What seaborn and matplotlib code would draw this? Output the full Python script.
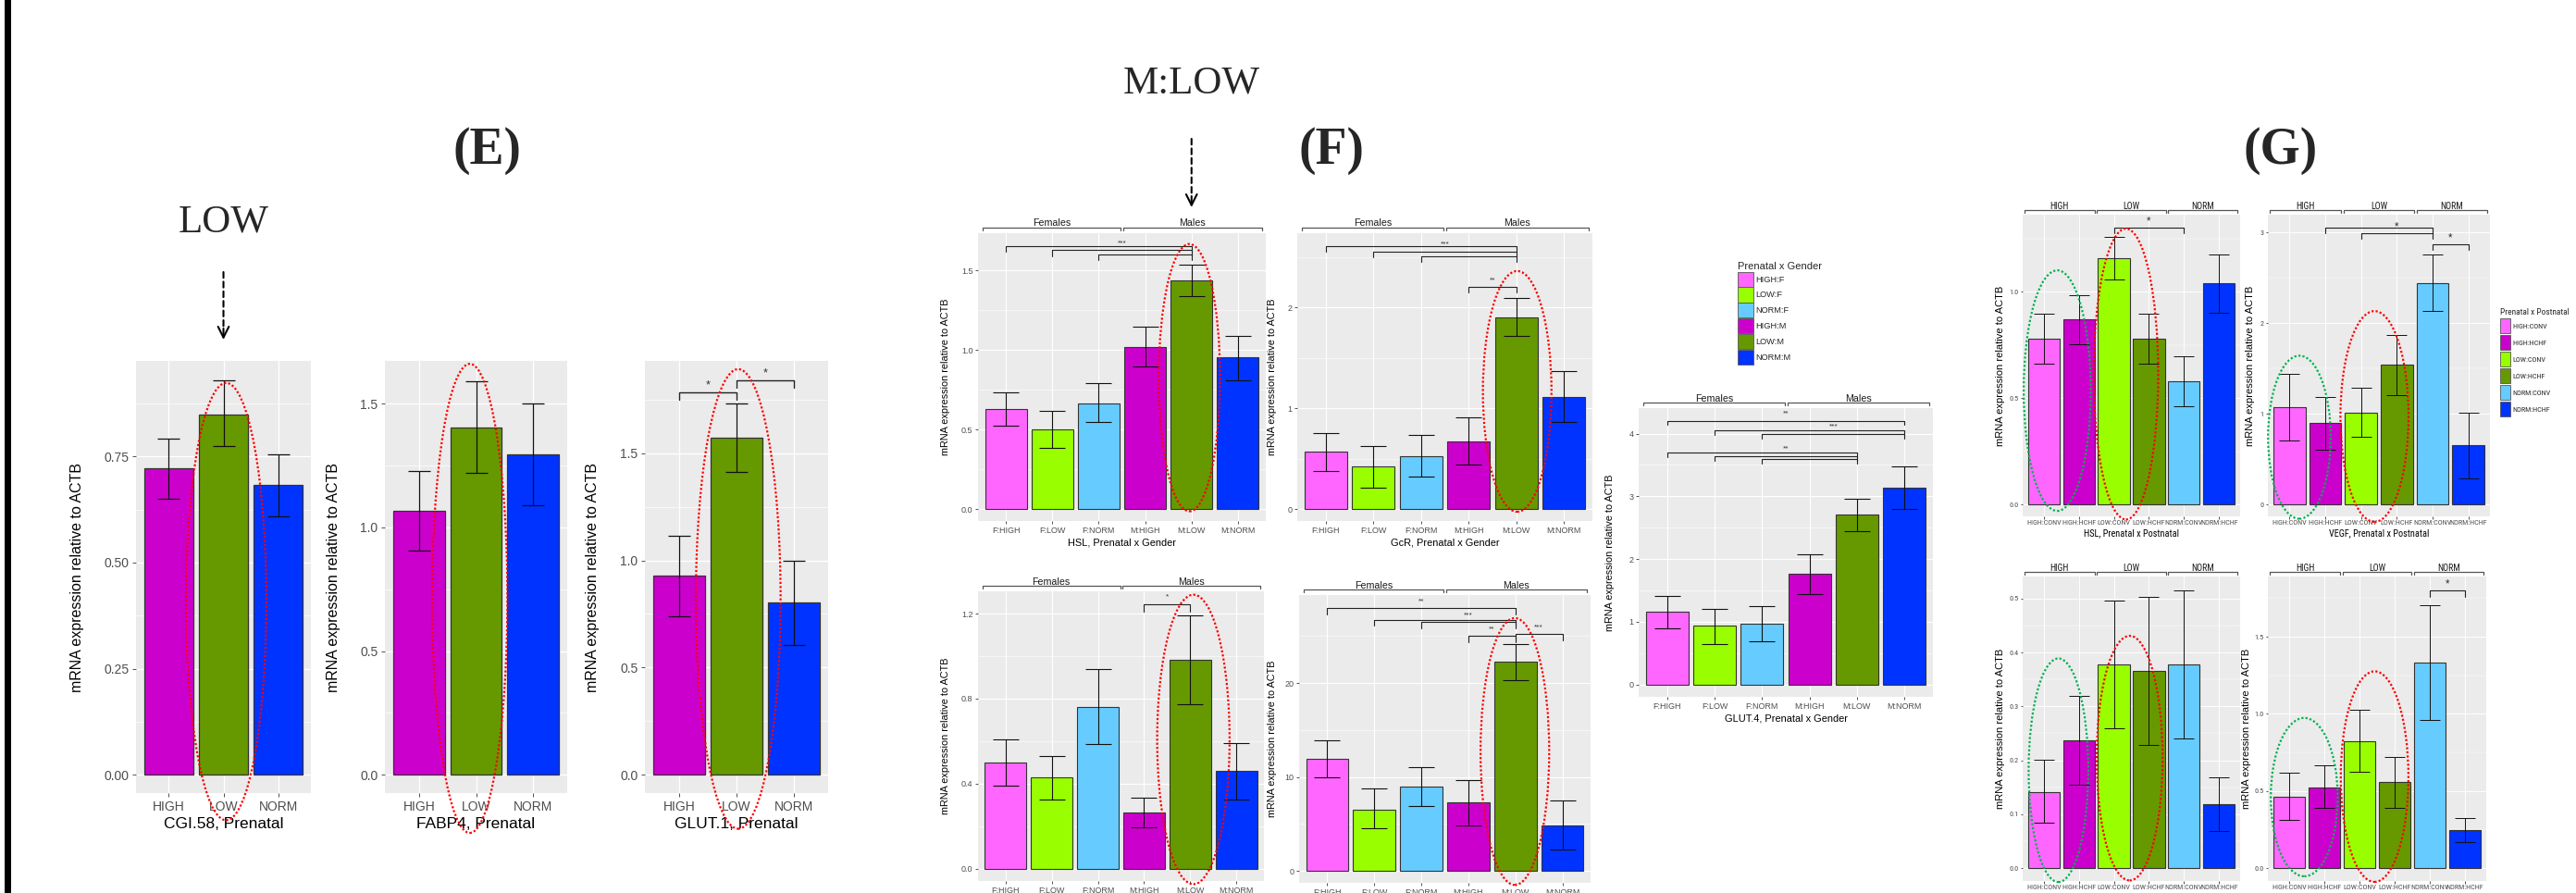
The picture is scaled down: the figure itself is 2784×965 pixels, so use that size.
import os
import numpy as np
import matplotlib
matplotlib.use("Agg")
import matplotlib.pyplot as plt
import seaborn as sns
from matplotlib.patches import Ellipse, Patch, Rectangle
from matplotlib.ticker import MultipleLocator
from matplotlib import font_manager as fm

W, H = 2784, 965

# ---------------- data ----------------
prenatal = ["HIGH", "LOW", "NORM"]
prenatal_colors = ["#CC00CC", "#669900", "#0033FF"]

cgi58_mean = [0.722, 0.849, 0.682]
cgi58_lo = [0.651, 0.774, 0.608]
cgi58_hi = [0.792, 0.929, 0.755]

fabp4_mean = [1.067, 1.403, 1.295]
fabp4_lo = [0.907, 1.219, 1.088]
fabp4_hi = [1.229, 1.592, 1.500]

glut1_mean = [0.927, 1.572, 0.802]
glut1_lo = [0.741, 1.413, 0.605]
glut1_hi = [1.115, 1.731, 0.998]

gender = ["F:HIGH", "F:LOW", "F:NORM", "M:HIGH", "M:LOW", "M:NORM"]
gender_colors = ["#FF66FF", "#99FF00", "#66CCFF", "#CC00CC", "#669900", "#0033FF"]
gender_legend = ["HIGH:F", "LOW:F", "NORM:F", "HIGH:M", "LOW:M", "NORM:M"]
gender_groups = ["Females", "Males"]

hsl_g_mean = [0.628, 0.501, 0.667, 1.021, 1.438, 0.953]
hsl_g_lo = [0.524, 0.385, 0.549, 0.895, 1.336, 0.810]
hsl_g_hi = [0.734, 0.620, 0.790, 1.146, 1.539, 1.090]

gcr_g_mean = [0.567, 0.421, 0.524, 0.671, 1.905, 1.116]
gcr_g_lo = [0.375, 0.213, 0.323, 0.439, 1.720, 0.869]
gcr_g_hi = [0.753, 0.625, 0.735, 0.909, 2.095, 1.372]

fb1_mean = [0.499, 0.428, 0.761, 0.263, 0.983, 0.460]
fb1_lo = [0.390, 0.327, 0.585, 0.193, 0.774, 0.327]
fb1_hi = [0.607, 0.529, 0.938, 0.333, 1.191, 0.593]

fb2_mean = [11.9, 6.52, 8.98, 7.25, 22.3, 4.82]
fb2_lo = [10.0, 4.49, 6.92, 4.85, 20.33, 2.26]
fb2_hi = [13.9, 8.72, 11.05, 9.67, 24.16, 7.48]

glut4_mean = [1.161, 0.935, 0.974, 1.761, 2.705, 3.143]
glut4_lo = [0.900, 0.644, 0.694, 1.436, 2.450, 2.799]
glut4_hi = [1.412, 1.210, 1.254, 2.081, 2.961, 3.478]

postnatal = ["HIGH:CONV", "HIGH:HCHF", "LOW:CONV", "LOW:HCHF", "NORM:CONV", "NORM:HCHF"]
post_colors = ["#FF66FF", "#CC00CC", "#99FF00", "#669900", "#66CCFF", "#0033FF"]
post_groups = ["HIGH", "LOW", "NORM"]

hsl_p_mean = [0.781, 0.870, 1.158, 0.779, 0.579, 1.039]
hsl_p_lo = [0.661, 0.754, 1.059, 0.661, 0.462, 0.900]
hsl_p_hi = [0.896, 0.984, 1.258, 0.896, 0.699, 1.177]

vegf_p_mean = [1.072, 0.899, 1.015, 1.544, 2.443, 0.652]
vegf_p_lo = [0.706, 0.604, 0.743, 1.208, 2.131, 0.285]
vegf_p_hi = [1.442, 1.191, 1.286, 1.873, 2.762, 1.015]

gb1_mean = [0.1416, 0.237, 0.377, 0.365, 0.377, 0.119]
gb1_lo = [0.0843, 0.155, 0.259, 0.228, 0.241, 0.068]
gb1_hi = [0.201, 0.319, 0.496, 0.503, 0.515, 0.169]

gb2_mean = [0.465, 0.525, 0.824, 0.556, 1.334, 0.247]
gb2_lo = [0.315, 0.393, 0.622, 0.393, 0.961, 0.168]
gb2_hi = [0.616, 0.664, 1.025, 0.718, 1.705, 0.323]

# tick values and labels
e1_ticks, e1_labels = [0, 0.25, 0.5, 0.75], ["0.00", "0.25", "0.50", "0.75"]
e2_ticks, e2_labels = [0, 0.5, 1.0, 1.5], ["0.0", "0.5", "1.0", "1.5"]
hsl_ticks, hsl_labels = [0, 0.5, 1.0, 1.5], ["0.0", "0.5", "1.0", "1.5"]
gcr_ticks, gcr_labels = [0, 1, 2], ["0", "1", "2"]
fb1_ticks, fb1_labels = [0, 0.4, 0.8, 1.2], ["0.0", "0.4", "0.8", "1.2"]
fb2_ticks, fb2_labels = [0, 10, 20], ["0", "10", "20"]
glut4_ticks, glut4_labels = [0, 1, 2, 3, 4], ["0", "1", "2", "3", "4"]
hslp_ticks, hslp_labels = [0, 0.5, 1.0], ["0.0", "0.5", "1.0"]
vegf_ticks, vegf_labels = [0, 1, 2, 3], ["0", "1", "2", "3"]
gb1_ticks, gb1_labels = [0, 0.1, 0.2, 0.3, 0.4, 0.5], ["0.0", "0.1", "0.2", "0.3", "0.4", "0.5"]
gb2_ticks, gb2_labels = [0, 0.5, 1.0, 1.5], ["0.0", "0.5", "1.0", "1.5"]

YLAB = "mRNA expression relative to ACTB"

# ---------------- style ----------------
sns.set_theme(style="darkgrid", rc={"axes.facecolor": "#EBEBEB", "grid.color": "white"})
plt.rcParams["font.family"] = ["Liberation Sans", "DejaVu Sans"]

files = {os.path.basename(f.fname): f.fname for f in fm.fontManager.ttflist}
NARROW, NARROW_K = None, 0.83
for name, k in [("LiberationSansNarrow-Regular.ttf", 1.0), ("RobotoCondensed-Regular.ttf", 0.97)]:
    if name in files:
        NARROW, NARROW_K = files[name], k
        break


def sans(size):
    return fm.FontProperties(family=["Liberation Sans", "DejaVu Sans"], size=size)


def narrow(size):
    if NARROW:
        return fm.FontProperties(fname=NARROW, size=size * NARROW_K)
    return sans(size * NARROW_K)


def serif(size, bold=False):
    return fm.FontProperties(family=["Liberation Serif", "DejaVu Serif"], size=size,
                             weight="bold" if bold else "normal")


E_STYLE = dict(tick=sans(10), title=sans(12.5), ylab=sans(11.5), star=sans(9),
               edge=0.9, elw=0.9, cap=8.7, grid=1.0, ticklen=3, pad=2.5, labelpad=3)
F_STYLE = dict(tick=sans(6.5), title=sans(7.9), ylab=sans(7.8), star=sans(6), strip=sans(7.7),
               edge=0.8, elw=0.8, cap=10, grid=0.8, ticklen=2.5, pad=1.5, labelpad=2.5)
G_STYLE = dict(tick=narrow(6.0), title=narrow(7.6), ylab=sans(8), star=narrow(7.5), strip=narrow(7.3),
               edge=0.8, elw=0.7, cap=8, grid=0.7, ticklen=1.8, pad=1.2, labelpad=2)

fig = plt.figure(figsize=(W / 100, H / 100), dpi=100)


def panel(rect, cats, mean, lo, hi, colors, ylim, ticks, ticklabels, xlabel, ylab_x, st):
    x0, y0, x1, y1 = rect
    ax = fig.add_axes([x0 / W, 1 - y1 / H, (x1 - x0) / W, (y1 - y0) / H])
    sns.barplot(x=cats, y=mean, hue=cats, palette=colors, order=cats, hue_order=cats,
                legend=False, width=0.9, saturation=1, edgecolor="#333333",
                linewidth=st["edge"], ax=ax)
    pos = np.arange(len(cats))
    mean, lo, hi = np.asarray(mean), np.asarray(lo), np.asarray(hi)
    ax.errorbar(pos, mean, yerr=[mean - lo, hi - mean], fmt="none", ecolor="#111111",
                elinewidth=st["elw"], capsize=st["cap"], capthick=st["elw"], zorder=4)
    ax.set_xlim(-0.6, len(cats) - 0.4)
    ax.set_ylim(*ylim)
    ax.set_yticks(ticks)
    ax.set_yticklabels(ticklabels, fontproperties=st["tick"], color="#4D4D4D")
    ax.set_xticks(pos)
    ax.set_xticklabels(cats, fontproperties=st["tick"], color="#4D4D4D")
    ax.yaxis.set_minor_locator(MultipleLocator((ticks[1] - ticks[0]) / 2))
    ax.grid(which="major", color="white", lw=st["grid"])
    ax.grid(which="minor", axis="y", color="white", lw=st["grid"] * 0.5)
    ax.tick_params(which="minor", length=0)
    ax.tick_params(which="major", length=st["ticklen"], width=0.6, color="#333333",
                   pad=st["pad"], bottom=True, left=True)
    ax.set_axisbelow(True)
    for s in ax.spines.values():
        s.set_visible(False)
    ax.set_xlabel(xlabel, fontproperties=st["title"], labelpad=st["labelpad"], color="black")
    ax.set_ylabel(YLAB, fontproperties=st["ylab"], color="black")
    ax.yaxis.set_label_coords((ylab_x - x0) / (x1 - x0), 0.5)
    ax.rect_px = rect
    return ax


def brackets(ax, items, drop, st, lw=0.8):
    for i, j, y, lab in items:
        ax.plot([i, i, j, j], [y - drop, y, y, y - drop], color="#222222", lw=lw, zorder=5)
        if lab:
            ax.annotate(lab, xy=((i + j) / 2, y), xytext=(0, 5.5), textcoords="offset points",
                        ha="center", va="center", fontproperties=st["star"], color="#333333")


def strips(ax, spans, labels, st, gap=6, drop=3):
    h = ax.rect_px[3] - ax.rect_px[1]
    yl, yd = 1 + gap / h, 1 + (gap - drop) / h
    tr = ax.get_xaxis_transform()
    for (a, b), lab in zip(spans, labels):
        ax.plot([a, a, b, b], [yd, yl, yl, yd], transform=tr, color="#555555", lw=0.9, clip_on=False)
        ax.text((a + b) / 2, yl + 1.5 / h, lab, transform=tr, ha="center", va="baseline",
                fontproperties=st["strip"], color="#1A1A1A")


def ovals(ax, items, color):
    for cx, cy, w, h in items:
        ax.add_patch(Ellipse((cx, cy), w, h, fill=False, edgecolor=color, lw=1.6,
                             ls=(0, (1, 1)), clip_on=False, zorder=6))


def key_legend(colors, labels, title, x, y, prop, tprop, key_w, key_h, pitch):
    fs = prop.get_size_in_points() * 100 / 72
    hh = (key_h / fs - 0.245) / 0.65
    handles = [Patch(facecolor=c, edgecolor="#555555", lw=0.6, label=l)
               for c, l in zip(colors, labels)]
    fig.legend(handles=handles, title=title, loc="upper left",
               bbox_to_anchor=(x / W, 1 - y / H), frameon=False, prop=prop,
               title_fontproperties=tprop, handlelength=key_w / fs, handleheight=hh,
               labelspacing=max(pitch - key_h, 0) / fs, handletextpad=0.25, borderpad=0,
               borderaxespad=0, alignment="left")


RED, GREEN = "#FF0000", "#00B050"

# ---------------- panel E ----------------
ax_e1 = panel((147, 390, 336, 857), prenatal, cgi58_mean, cgi58_lo, cgi58_hi, prenatal_colors,
              (-0.043, 0.975), e1_ticks, e1_labels, "CGI.58, Prenatal", 91, E_STYLE)
ax_e2 = panel((416, 390, 613, 857), prenatal, fabp4_mean, fabp4_lo, fabp4_hi, prenatal_colors,
              (-0.074, 1.673), e2_ticks, e2_labels, "FABP4, Prenatal", 368, E_STYLE)
ax_e3 = panel((697, 390, 895, 857), prenatal, glut1_mean, glut1_lo, glut1_hi, prenatal_colors,
              (-0.085, 1.93), e2_ticks, e2_labels, "GLUT.1, Prenatal", 648, E_STYLE)
brackets(ax_e3, [(0, 1, 1.784, "*"), (1, 2, 1.838, "*")], 0.035, E_STYLE, lw=1.0)
ovals(ax_e1, [(1.05, 0.408, 1.47, 1.03)], RED)
ovals(ax_e2, [(0.89, 0.713, 1.32, 1.896)], RED)
ovals(ax_e3, [(1.03, 0.82, 1.48, 2.143)], RED)

# ---------------- panel F ----------------
g_spans = [(-0.5, 2.48), (2.53, 5.52)]
ax_f1 = panel((1057, 252, 1368, 563), gender, hsl_g_mean, hsl_g_lo, hsl_g_hi, gender_colors,
              (-0.073, 1.734), hsl_ticks, hsl_labels, "HSL, Prenatal x Gender", 1027, F_STYLE)
brackets(ax_f1, [(0, 4, 1.655, ""), (1, 4, 1.628, "***"), (2, 4, 1.603, "")], 0.04, F_STYLE)
ax_f2 = panel((1402, 252, 1721, 563), gender, gcr_g_mean, gcr_g_lo, gcr_g_hi, gender_colors,
              (-0.116, 2.735), gcr_ticks, gcr_labels, "GcR, Prenatal x Gender", 1380, F_STYLE)
brackets(ax_f2, [(0, 4, 2.607, ""), (1, 4, 2.555, "***"), (2, 4, 2.506, ""),
                 (3, 4, 2.201, "**")], 0.055, F_STYLE)
ax_f3 = panel((1057, 639, 1366, 952), gender, fb1_mean, fb1_lo, fb1_hi, gender_colors,
              (-0.058, 1.305), fb1_ticks, fb1_labels, "", 1027, F_STYLE)
brackets(ax_f3, [(3, 4, 1.244, "*")], 0.033, F_STYLE)
ax_f4 = panel((1404, 643, 1719, 954), gender, fb2_mean, fb2_lo, fb2_hi, gender_colors,
              (-1.28, 29.36), fb2_ticks, fb2_labels, "", 1380, F_STYLE)
brackets(ax_f4, [(0, 4, 27.97, "**"), (1, 4, 26.72, ""), (2, 4, 26.46, "***"),
                 (3, 4, 25.02, "**"), (4, 5, 25.18, "***")], 0.65, F_STYLE)
ax_f5 = panel((1771, 441, 2089, 753), gender, glut4_mean, glut4_lo, glut4_hi, gender_colors,
              (-0.197, 4.407), glut4_ticks, glut4_labels, "GLUT.4, Prenatal x Gender", 1745, F_STYLE)
brackets(ax_f5, [(0, 5, 4.206, "**"), (1, 5, 4.054, ""), (2, 5, 3.994, "***"),
                 (0, 4, 3.699, ""), (1, 4, 3.64, "**"), (2, 4, 3.59, "")], 0.07, F_STYLE)
for ax in (ax_f1, ax_f2, ax_f3, ax_f4, ax_f5):
    strips(ax, g_spans, gender_groups, F_STYLE)
ovals(ax_f1, [(3.955, 0.827, 1.32, 1.678)], RED)
ovals(ax_f2, [(4.02, 1.168, 1.44, 2.384)], RED)
ovals(ax_f3, [(4.07, 0.608, 1.57, 1.362)], RED)
ovals(ax_f4, [(3.99, 12.7, 1.46, 28.4)], RED)

key_legend(gender_colors, gender_legend, "Prenatal x Gender", 1878, 283,
           sans(6.7), sans(8), 17, 16.3, 16.8)

# ---------------- panel G ----------------
p_spans = [(-0.55, 1.45), (1.52, 3.48), (3.55, 5.52)]
ax_g1 = panel((2186, 232, 2421, 558), postnatal, hsl_p_mean, hsl_p_lo, hsl_p_hi, post_colors,
              (-0.055, 1.363), hslp_ticks, hslp_labels, "HSL, Prenatal x Postnatal", 2167, G_STYLE)
brackets(ax_g1, [(2, 4, 1.301, "*")], 0.025, G_STYLE)
ax_g2 = panel((2451, 232, 2691, 558), postnatal, vegf_p_mean, vegf_p_lo, vegf_p_hi, post_colors,
              (-0.13, 3.197), vegf_ticks, vegf_labels, "VEGF, Prenatal x Postnatal", 2437, G_STYLE)
brackets(ax_g2, [(1, 4, 3.05, ""), (2, 4, 2.993, "*"), (4, 5, 2.874, "*")], 0.06, G_STYLE)
ax_g3 = panel((2186, 623, 2421, 952), postnatal, gb1_mean, gb1_lo, gb1_hi, post_colors,
              (-0.024, 0.541), gb1_ticks, gb1_labels, "", 2167, G_STYLE)
ax_g4 = panel((2451, 623, 2687, 952), postnatal, gb2_mean, gb2_lo, gb2_hi, post_colors,
              (-0.084, 1.891), gb2_ticks, gb2_labels, "", 2433, G_STYLE)
brackets(ax_g4, [(4, 5, 1.801, "*")], 0.04, G_STYLE)
for ax in (ax_g1, ax_g2, ax_g3, ax_g4):
    strips(ax, p_spans, post_groups, G_STYLE, gap=5, drop=3)
ovals(ax_g1, [(0.385, 0.536, 1.91, 1.131)], GREEN)
ovals(ax_g1, [(2.345, 0.614, 1.84, 1.367)], RED)
ovals(ax_g2, [(0.28, 0.743, 1.75, 1.798)], GREEN)
ovals(ax_g2, [(2.376, 0.972, 1.90, 2.324)], RED)
ovals(ax_g3, [(0.42, 0.1815, 1.70, 0.415)], GREEN)
ovals(ax_g3, [(2.45, 0.204, 1.88, 0.454)], RED)
ovals(ax_g4, [(0.433, 0.46, 1.90, 1.027)], GREEN)
ovals(ax_g4, [(2.43, 0.593, 1.92, 1.366)], RED)

key_legend(post_colors, postnatal, "Prenatal x Postnatal", 2702, 333,
           narrow(6.0), narrow(7.0), 11, 15.6, 18)

# ---------------- headings, call-outs ----------------
fig.add_artist(Rectangle((5 / W, 0), 7 / W, 1, transform=fig.transFigure,
                         facecolor="black", edgecolor="none"))
for x, lab in [(526, "(E)"), (1439, "(F)"), (2465, "(G)")]:
    fig.text(x / W, 1 - 163 / H, lab, fontproperties=serif(40, bold=True), ha="center", va="center")


def callout(ax, xpos, text, ty, y0, y1):
    ax.annotate(text, xy=(xpos, H - ty), xycoords=("data", "figure pixels"),
                ha="center", va="center", fontproperties=serif(31), annotation_clip=False)
    ax.annotate("", xy=(xpos, H - y1 + 12), xycoords=("data", "figure pixels"),
                xytext=(xpos, H - y0), textcoords=("data", "figure pixels"),
                arrowprops=dict(arrowstyle="-", ls=(0, (3, 2)), lw=1.5, color="black",
                                shrinkA=0, shrinkB=0), annotation_clip=False)
    ax.annotate("", xy=(xpos, H - y1), xycoords=("data", "figure pixels"),
                xytext=(xpos, H - y1 + 12), textcoords=("data", "figure pixels"),
                arrowprops=dict(arrowstyle="->,head_length=0.7,head_width=0.35", lw=1.5,
                                color="black", shrinkA=0, shrinkB=0), annotation_clip=False)


callout(ax_e1, 1, "LOW", 240, 294, 367)
callout(ax_f1, 4, "M:LOW", 90, 150, 224)

fig.savefig("out.png", dpi=100, facecolor="white")
